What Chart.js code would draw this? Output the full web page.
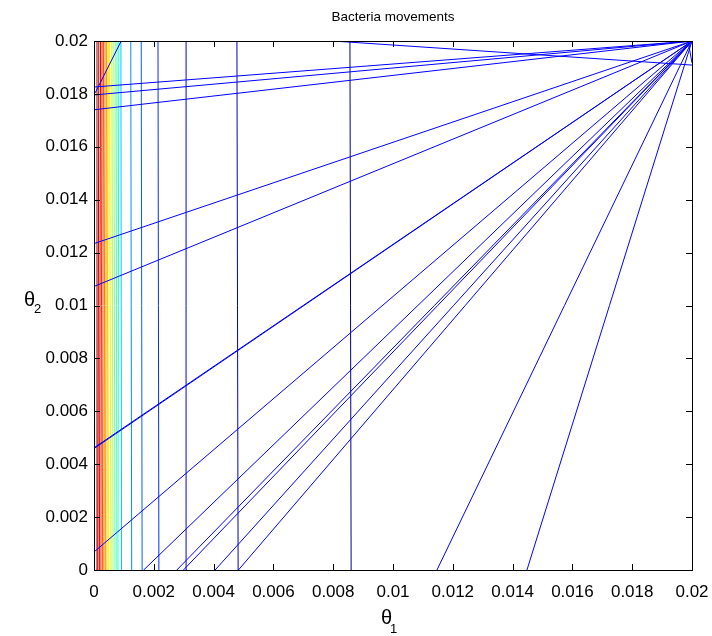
<!DOCTYPE html>
<html>
<head>
<meta charset="utf-8">
<script src="https://cdn.jsdelivr.net/npm/chart.js@4.4.1/dist/chart.umd.min.js"></script>
<style>
  html, body { margin: 0; padding: 0; background: #fff; }
  #wrap { width: 712px; height: 636px; }
</style>
</head>
<body>
<div id="wrap"><canvas id="chart" width="712" height="636"></canvas></div>
<script>
// tick labels shared by both axes
const tickValues = [0, 0.002, 0.004, 0.006, 0.008, 0.01, 0.012, 0.014, 0.016, 0.018, 0.02];

// contour levels: theta1 where each level line meets theta2 = 0 and theta2 = 0.02
const contourBottom = [0.00008, 0.00013, 0.00018, 0.00023, 0.00028, 0.00033, 0.00038, 0.00043, 0.00048, 0.00054,
                       0.00060, 0.00067, 0.00074, 0.00080, 0.00092, 0.00126, 0.00161, 0.00217, 0.00311, 0.00482, 0.00860];
const contourTop    = [0.00010, 0.00016, 0.00022, 0.00027, 0.00032, 0.00037, 0.00042, 0.00047, 0.00052, 0.00058,
                       0.00064, 0.00071, 0.00077, 0.00083, 0.00090, 0.00123, 0.00158, 0.00214, 0.00308, 0.00478, 0.00856];

// bacteria movements: start -> end
const moveStartT1 = [0, 0, 0, 0, 0, 0, 0, 0, 0.00166, 0.00277, 0.00299, 0.00405, 0.00483, 0.01147, 0.01448, 0.00004, 0.00799, 0.01987];
const moveStartT2 = [0.01826, 0.01796, 0.01740, 0.01234, 0.01072, 0.00462, 0.00459, 0.00068, 0, 0, 0, 0, 0, 0, 0, 0.01804, 0.02, 0.02];
const moveEndT1   = [0.02, 0.02, 0.02, 0.02, 0.02, 0.02, 0.02, 0.02, 0.02, 0.02, 0.02, 0.02, 0.02, 0.02, 0.02, 0.00091, 0.02, 0.02];
const moveEndT2   = [0.02, 0.02, 0.02, 0.02, 0.02, 0.02, 0.02, 0.02, 0.02, 0.02, 0.02, 0.02, 0.02, 0.02, 0.02, 0.02, 0.01909, 0.01917];

// jet-like colours, highest level (left) to lowest (right)
const jet = ['#a00000', '#c80000', '#f00000', '#ff2800', '#ff5000', '#ff7800', '#ffa000', '#ffc800', '#fff000', '#d8ff28',
             '#a8ff58', '#78ff88', '#48ffb8', '#18ffe8', '#00c8ff', '#0090ff', '#0060ff', '#0030ff', '#0000f0', '#0000c0', '#000090'];

const FONT = '"Liberation Sans", Arial, sans-serif';

const datasets = [];
contourBottom.forEach((x0, i) => {
  datasets.push({
    data: [{x: x0, y: 0}, {x: contourTop[i], y: 0.02}],
    borderColor: jet[i],
    borderWidth: 1,
    order: 2
  });
});
moveStartT1.forEach((x0, i) => {
  datasets.push({
    data: [{x: x0, y: moveStartT2[i]}, {x: moveEndT1[i], y: moveEndT2[i]}],
    borderColor: '#0000ff',
    borderWidth: 1,
    order: 1
  });
});

const fmt = v => String(Number(v.toFixed(4)));

// matlab style box with inward ticks, title and theta labels
const matlabBox = {
  id: 'matlabBox',
  afterDatasetsDraw(chart) {
    const {ctx, chartArea: a, scales} = chart;
    ctx.save();
    ctx.strokeStyle = '#000';
    ctx.lineWidth = 1;
    ctx.beginPath();
    tickValues.forEach(v => {
      const px = Math.round(scales.x.getPixelForValue(v)) + 0.5;
      const py = Math.round(scales.y.getPixelForValue(v)) + 0.5;
      ctx.moveTo(px, a.bottom); ctx.lineTo(px, a.bottom - 6);
      ctx.moveTo(px, a.top); ctx.lineTo(px, a.top + 6);
      ctx.moveTo(a.left, py); ctx.lineTo(a.left + 6, py);
      ctx.moveTo(a.right, py); ctx.lineTo(a.right - 6, py);
    });
    ctx.stroke();
    ctx.strokeRect(a.left + 0.5, a.top + 0.5, a.right - a.left, a.bottom - a.top);

    ctx.fillStyle = '#000';
    ctx.textBaseline = 'middle';
    ctx.textAlign = 'center';
    ctx.font = '13.5px ' + FONT;
    ctx.fillText('Bacteria movements', (a.left + a.right) / 2, 17);

    ctx.textAlign = 'left';
    ctx.font = '20px ' + FONT;
    ctx.fillText('\u03b8', 381, 618);
    ctx.fillText('\u03b8', 24, 300);
    ctx.font = '13px ' + FONT;
    ctx.fillText('1', 390, 629);
    ctx.fillText('2', 34, 309);
    ctx.restore();
  }
};

new Chart(document.getElementById('chart'), {
  type: 'scatter',
  data: {datasets: datasets},
  options: {
    responsive: false,
    animation: false,
    showLine: true,
    elements: {point: {radius: 0}, line: {tension: 0}},
    layout: {padding: {top: 41, right: 20, left: 0, bottom: 0}},
    plugins: {legend: {display: false}, tooltip: {enabled: false}, title: {display: false}},
    scales: {
      x: {
        type: 'linear', min: 0, max: 0.02,
        afterBuildTicks: s => { s.ticks = tickValues.map(v => ({value: v})); },
        afterFit: s => { s.height = 66; s.paddingLeft = 0; s.paddingRight = 0; },
        grid: {display: false, drawTicks: false},
        border: {display: false},
        ticks: {color: '#000', padding: 12, maxRotation: 0, autoSkip: false,
                font: {family: FONT, size: 17}, callback: fmt}
      },
      y: {
        type: 'linear', min: 0, max: 0.02,
        afterBuildTicks: s => { s.ticks = tickValues.map(v => ({value: v})); },
        afterFit: s => { s.width = 94; s.paddingTop = 0; s.paddingBottom = 0; },
        grid: {display: false, drawTicks: false},
        border: {display: false},
        ticks: {color: '#000', padding: 6, autoSkip: false,
                font: {family: FONT, size: 17}, callback: fmt}
      }
    }
  },
  plugins: [matlabBox]
});
</script>
</body>
</html>
